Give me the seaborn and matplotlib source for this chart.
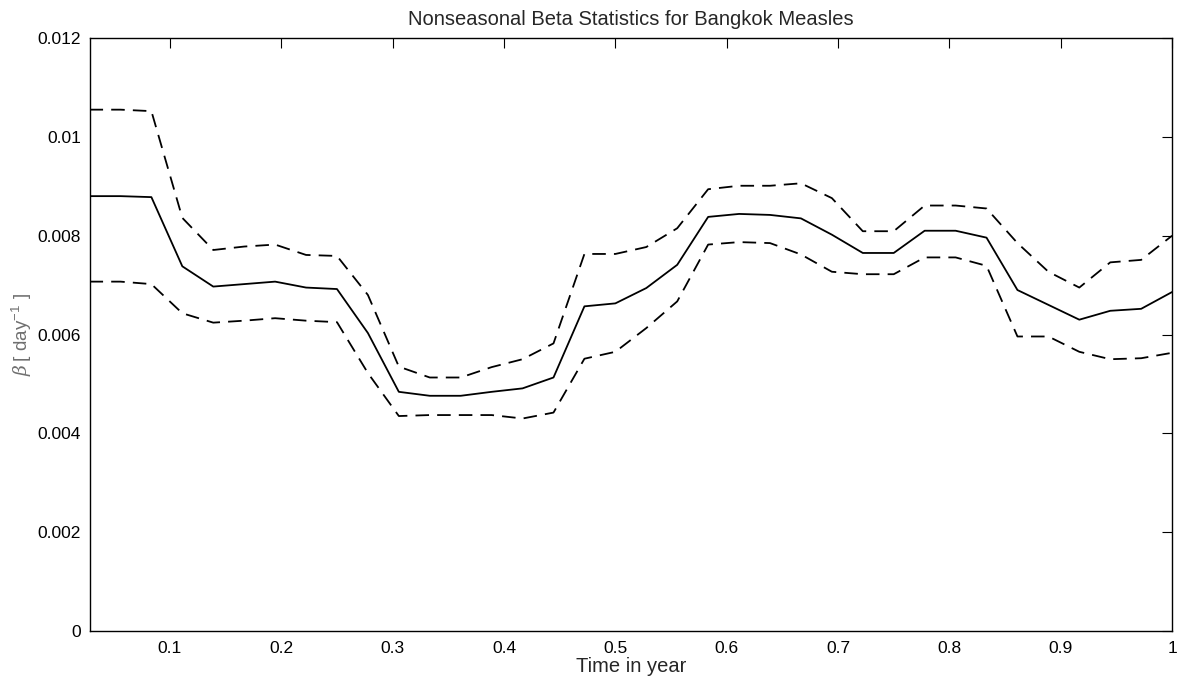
import numpy as np
import pandas as pd
import matplotlib
matplotlib.use("Agg")
import matplotlib.pyplot as plt
import seaborn as sns

# time points (fraction of year, k/36)
steps = list(range(1, 37))
mean_beta = [8.80, 8.80, 8.78, 7.38, 6.97, 7.02, 7.07, 6.95, 6.92, 6.03, 4.84, 4.76,
             4.76, 4.84, 4.91, 5.13, 6.57, 6.63, 6.94, 7.41, 8.38, 8.44, 8.42, 8.35,
             8.02, 7.65, 7.65, 8.10, 8.10, 7.96, 6.90, 6.60, 6.30, 6.48, 6.52, 6.86]
upper_beta = [10.55, 10.55, 10.52, 8.36, 7.71, 7.78, 7.82, 7.61, 7.59, 6.80, 5.35, 5.13,
              5.13, 5.34, 5.50, 5.82, 7.63, 7.63, 7.77, 8.15, 8.94, 9.01, 9.01, 9.06,
              8.76, 8.09, 8.09, 8.61, 8.61, 8.55, 7.85, 7.27, 6.95, 7.46, 7.51, 8.00]
lower_beta = [7.07, 7.07, 7.02, 6.43, 6.24, 6.28, 6.33, 6.28, 6.25, 5.22, 4.35, 4.37,
              4.37, 4.37, 4.30, 4.42, 5.51, 5.65, 6.13, 6.67, 7.82, 7.87, 7.85, 7.62,
              7.27, 7.22, 7.22, 7.56, 7.56, 7.39, 5.96, 5.96, 5.65, 5.50, 5.52, 5.63]
xticks = [0.1, 0.2, 0.3, 0.4, 0.5, 0.6, 0.7, 0.8, 0.9, 1.0]
xticklabels = ["0.1", "0.2", "0.3", "0.4", "0.5", "0.6", "0.7", "0.8", "0.9", "1"]
yticks = [0, 0.002, 0.004, 0.006, 0.008, 0.010, 0.012]
yticklabels = ["0", "0.002", "0.004", "0.006", "0.008", "0.01", "0.012"]

t = np.array(steps) / 36.0
df = pd.DataFrame({
    "t": np.concatenate([t, t, t]),
    "beta": np.concatenate([mean_beta, upper_beta, lower_beta]) * 1e-3,
    "series": ["mean"] * 36 + ["upper"] * 36 + ["lower"] * 36,
})

sns.set_style("white")
plt.rcParams["font.family"] = ["Liberation Sans", "DejaVu Sans"]
plt.rcParams["mathtext.fontset"] = "custom"
plt.rcParams["mathtext.rm"] = "Liberation Sans"
plt.rcParams["mathtext.it"] = "DejaVu Serif:italic"

fig = plt.figure(figsize=(11.78, 6.81), dpi=100)
ax = fig.add_axes([0.076, 0.0734, 0.919, 0.8708])

sns.lineplot(data=df, x="t", y="beta", style="series", units="series", estimator=None,
             color="black", linewidth=1.3,
             dashes={"mean": "", "upper": (7.5, 4.5), "lower": (7.5, 4.5)},
             legend=False, ax=ax)

ax.set_xlim(1 / 36, 1.0)
ax.set_ylim(0, 0.012)
ax.set_xticks(xticks)
ax.set_xticklabels(xticklabels)
ax.set_yticks(yticks)
ax.set_yticklabels(yticklabels)
ax.tick_params(direction="in", length=7, width=0.8, top=True, right=True,
               labelsize=12.5, colors="black")
ax.tick_params(axis="x", pad=7)
ax.tick_params(axis="y", pad=6)
for s in ax.spines.values():
    s.set_visible(True)
    s.set_color("black")
    s.set_linewidth(1.0)

ax.set_xlabel("Time in year", fontsize=14.5, labelpad=1)
ax.set_ylabel(r"$\beta\,[\ \mathrm{day}^{-1}\ ]$", fontsize=13.5, color="#6f6f6f", labelpad=3)
ax.set_title("Nonseasonal Beta Statistics for Bangkok Measles", fontsize=14.5, pad=9)

fig.savefig("out.png", dpi=100)
